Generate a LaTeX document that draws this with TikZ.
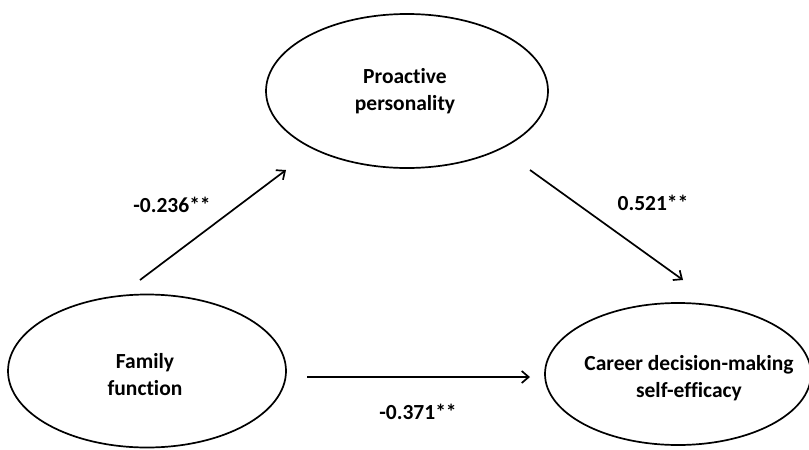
\documentclass[tikz,border=0pt]{standalone}
\usepackage{fontspec}
\setmainfont{Carlito}[Ligatures=NoCommon]
\usetikzlibrary{shapes.geometric,arrows.meta}

\begin{document}
\begin{tikzpicture}[x=1pt,y=-1pt,
  latent/.style={ellipse, draw, line width=1.7pt, inner sep=0pt},
  vartext/.style={align=center, inner sep=0pt, font=\bfseries\fontsize{21.5}{27}\selectfont},
  path/.style={-{Straight Barb[length=7pt,width=12pt]}, line width=1.7pt},
  coef/.style={font=\bfseries\fontsize{21.5}{24}\selectfont}]

  \useasboundingbox (0,0) rectangle (809,450);

  % latent variables
  \node[latent, minimum width=282pt, minimum height=154pt] (pp) at (407,91) {};
  \node[latent, minimum width=278pt, minimum height=153pt] (ff) at (147,371) {};
  \node[latent, minimum width=266pt, minimum height=142pt] (cdse) at (678,374) {};

  \node[vartext] (pp-t) at (405,91) {Proactive\\personality};
  \node[vartext] (ff-t) at (145,375) {Family\\function};
  \node[vartext] (cdse-t) at (689,378) {Career decision-making\\self-efficacy};

  % arrow ends
  \coordinate (a1s) at (140,280);
  \coordinate (a1e) at (286,170);
  \coordinate (a2s) at (530,170);
  \coordinate (a2e) at (683,280);
  \coordinate (a3s) at (307,377);
  \coordinate (a3e) at (530,377);

  \draw[path] (a1s) -- (a1e);
  \draw[path] (a2s) -- (a2e);
  \draw[path] (a3s) -- (a3e);

  % coefficients
  \node[coef] (b1) at (172,205) {-0.236**};
  \node[coef] (b2) at (653,203) {0.521**};
  \node[coef] (b3) at (418,412) {-0.371**};

\end{tikzpicture}
\end{document}
